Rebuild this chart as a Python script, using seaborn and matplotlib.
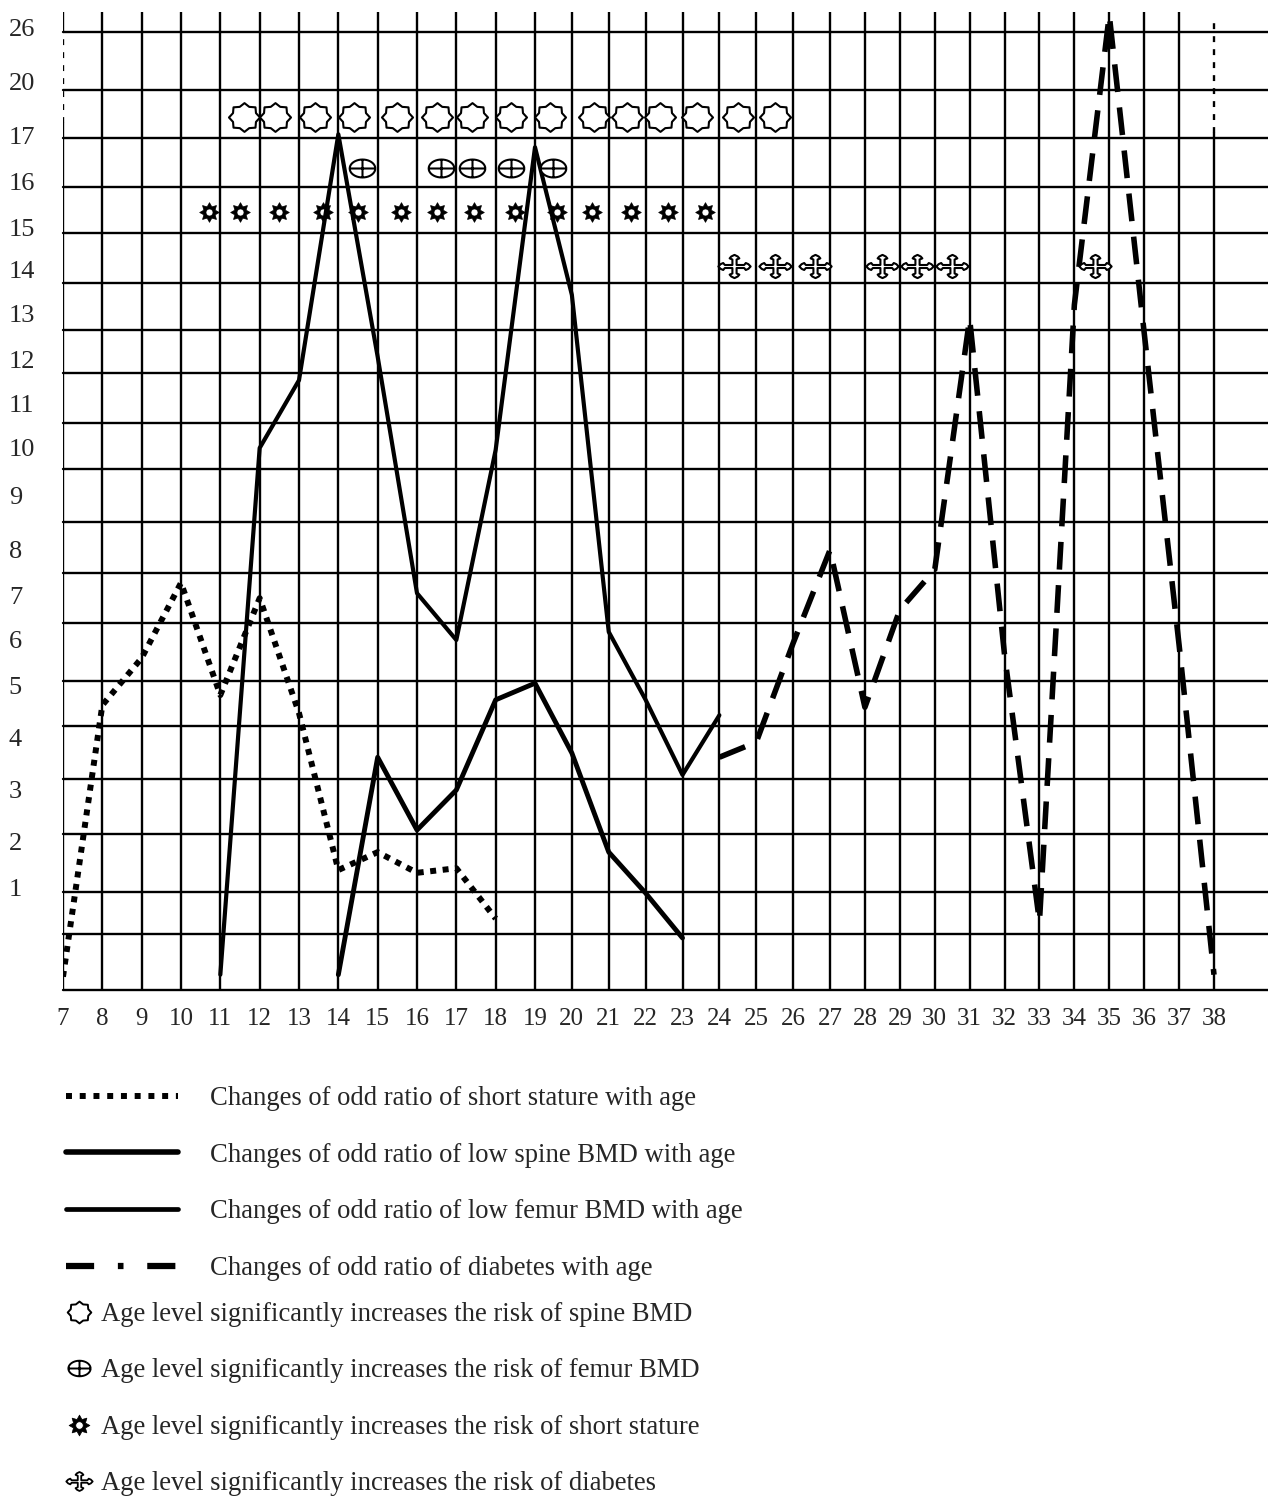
import matplotlib
matplotlib.use("Agg")
import matplotlib.pyplot as plt
import numpy as np
import seaborn as sns
from matplotlib.path import Path
from matplotlib.markers import MarkerStyle
from matplotlib.lines import Line2D

# ---- data (odds ratio by age) ----
ages_short = [7, 8, 9, 10, 11, 12, 13, 14, 15, 16, 17, 18]
or_short = [0.13, 4.62, 5.6, 7.27, 4.81, 6.93, 4.47, 1.39, 1.78, 1.33, 1.43, 0.7]

ages_spine = [11, 12, 13, 14, 15, 16, 17, 18, 19, 20, 21, 22, 23, 24]
or_spine = [0.15, 10.0, 11.53, 17.04, 12.07, 7.04, 6.0, 9.96, 16.74, 13.42, 6.18, 4.72, 3.29, 4.43]

ages_femur = [14, 15, 16, 17, 18, 19, 20, 21, 22, 23]
or_femur = [0.15, 3.63, 2.23, 3.0, 4.72, 5.04, 3.71, 1.78, 0.95, 0.51]

ages_diab = [24, 25, 26, 27, 28, 29, 30, 31, 32, 33, 34, 35, 36, 37, 38]
or_diab = [3.63, 3.92, 5.93, 8.0, 4.58, 6.67, 7.56, 12.88, 5.67, 0.67, 13.19, 27.4, 12.58, 5.89, 0.15]

# ages where the risk increase is significant (symbol rows)
sig_spine_ages = [11.6, 12.4, 13.4, 14.4, 15.5, 16.5, 17.4, 18.4, 19.4, 20.6, 21.5, 22.4, 23.4, 24.5, 25.5]
sig_femur_ages = [14.6, 16.6, 17.4, 18.4, 19.5]
sig_short_ages = [10.7, 11.5, 12.5, 13.6, 14.5, 15.6, 16.5, 17.45, 18.5, 19.6, 20.55, 21.6, 22.6, 23.6]
sig_diab_ages = [24.4, 25.5, 26.6, 28.5, 29.5, 30.5, 34.6]
row_spine, row_femur, row_short, row_diab = 18.0, 16.3, 15.33, 14.1

x_ticks = list(range(7, 39))
y_ticks = [1, 2, 3, 4, 5, 6, 7, 8, 9, 10, 11, 12, 13, 14, 15, 16, 17, 20, 26]
grid_vals = [0, 0.55, 0.96, 2.15, 3.21, 4.23, 5.09, 6.38, 7.49, 8.51, 9.55, 10.56,
             11.7, 12.64, 13.7, 14.86, 15.89, 16.94, 19.55, 25.56]

labels_lines = ["Changes of odd ratio of short stature with age",
                "Changes of odd ratio of low spine BMD with age",
                "Changes of odd ratio of low femur BMD with age",
                "Changes of odd ratio of diabetes with age"]
labels_marks = ["Age level significantly increases the risk of spine BMD",
                "Age level significantly increases the risk of femur BMD",
                "Age level significantly increases the risk of short stature",
                "Age level significantly increases the risk of diabetes"]


def piecewise(xs, ys):
    xs = np.asarray(xs, float)
    ys = np.asarray(ys, float)
    s0 = (ys[1] - ys[0]) / (xs[1] - xs[0])
    s1 = (ys[-1] - ys[-2]) / (xs[-1] - xs[-2])

    def f(v):
        v = np.asarray(v, float)
        out = np.interp(v, xs, ys)
        out = np.where(v < xs[0], ys[0] + (v - xs[0]) * s0, out)
        out = np.where(v > xs[-1], ys[-1] + (v - xs[-1]) * s1, out)
        return out
    return f


# hand drawn axes: uneven spacing on both axes
x_anchor, x_px = [7, 19, 27, 38], [0, 472, 767, 1151]
y_anchor = [0, 1, 2, 3, 4, 5, 6, 7, 8, 9, 10, 11, 12, 13, 14, 15, 16, 17, 20, 26, 30]
y_px = [0, 102, 148, 200, 252, 305, 350, 395, 440, 495, 542, 587, 630, 677, 720, 763, 808, 855, 908, 962, 999]
fx, fx_inv = piecewise(x_anchor, x_px), piecewise(x_px, x_anchor)
fy, fy_inv = piecewise(y_anchor, y_px), piecewise(y_px, y_anchor)


# ---- marker shapes ----
def seal_path():
    ang = np.linspace(0, 2 * np.pi, 17)[:-1] + np.pi / 2
    r = np.where(np.arange(16) % 2 == 0, 1.0, 0.8)
    v = np.c_[1.08 * r * np.cos(ang), r * np.sin(ang)]
    v = np.vstack([v, v[:1]])
    codes = [Path.MOVETO] + [Path.LINETO] * 15 + [Path.CLOSEPOLY]
    return Path(v, codes)


def oplus_path():
    t = np.linspace(0, 2 * np.pi, 41)
    ell = np.c_[np.cos(t), 0.7 * np.sin(t)]
    verts = list(ell) + [(-1, 0), (1, 0), (0, -0.7), (0, 0.7)]
    codes = [Path.MOVETO] + [Path.LINETO] * 40 + [Path.MOVETO, Path.LINETO, Path.MOVETO, Path.LINETO]
    return Path(verts, codes)


def sun_path():
    ang = np.linspace(0, 2 * np.pi, 17)[:-1] + np.pi / 2
    r = np.where(np.arange(16) % 2 == 0, 1.0, 0.62)
    outer = np.c_[r * np.cos(ang), r * np.sin(ang)]
    t = np.linspace(0, -2 * np.pi, 25)[:-1]
    inner = np.c_[0.36 * np.cos(t), 0.36 * np.sin(t)]
    verts = np.vstack([outer, outer[:1], inner, inner[:1]])
    codes = ([Path.MOVETO] + [Path.LINETO] * 15 + [Path.CLOSEPOLY]
             + [Path.MOVETO] + [Path.LINETO] * 23 + [Path.CLOSEPOLY])
    return Path(verts, codes)


def cross_path():
    arm = np.array([(0.13, -0.13), (0.6, -0.13), (0.7, -0.3), (0.86, -0.2), (1.0, 0),
                    (0.86, 0.2), (0.7, 0.3), (0.6, 0.13)])
    pts = []
    for k in range(4):
        a = k * np.pi / 2
        rot = np.array([[np.cos(a), -np.sin(a)], [np.sin(a), np.cos(a)]])
        pts.extend(arm @ rot.T)
    pts = np.array(pts) * [1.0, 0.72]
    verts = np.vstack([pts, pts[:1]])
    codes = [Path.MOVETO] + [Path.LINETO] * (len(pts) - 1) + [Path.CLOSEPOLY]
    return Path(verts, codes)


m_spine = MarkerStyle(seal_path())
m_femur = MarkerStyle(oplus_path())
m_short = MarkerStyle(sun_path())
m_diab = MarkerStyle(cross_path())

sns.set_style("white")
plt.rcParams["font.family"] = ["Liberation Serif", "DejaVu Serif"]

W, H = 1268, 1502
fig = plt.figure(figsize=(W / 100, H / 100), dpi=100)
ax = fig.add_axes([63 / W, 1 - 990 / H, 1205 / W, 978 / H])
ax.set_xscale("function", functions=(fx, fx_inv))
ax.set_yscale("function", functions=(fy, fy_inv))
ax.set_xlim(7, float(fx_inv(1205)))
ytop = float(fy_inv(978))
ax.set_ylim(0, ytop)
for s in ax.spines.values():
    s.set_visible(False)

# grid drawn like the paper sheet
glw = 1.7
for a in x_ticks[1:-1]:
    ax.axvline(a, color="black", lw=glw, zorder=1)
ax.plot([7, 7], [0, 17.68], color="black", lw=glw, zorder=1)
ax.plot([7, 7], [17.68, 25.56], color="black", lw=glw, ls=(0, (2.5, 3)), zorder=1)
ax.plot([7, 7], [25.56, ytop], color="black", lw=glw, zorder=1)
ax.plot([38, 38], [0, 17.1], color="black", lw=glw, zorder=1)
ax.plot([38, 38], [17.1, 27.2], color="black", lw=glw, ls=(0, (2.5, 3)), zorder=1)
for g in grid_vals:
    ax.axhline(g, color="black", lw=glw, zorder=1, clip_on=False)

# odds ratio curves
sns.lineplot(x=ages_short, y=or_short, ax=ax, color="black", lw=4.3,
             linestyle=(0, (1, 1.1)), dash_capstyle="butt", zorder=3)
sns.lineplot(x=ages_spine, y=or_spine, ax=ax, color="black", lw=3.0, zorder=3)
sns.lineplot(x=ages_femur, y=or_femur, ax=ax, color="black", lw=3.5, zorder=3)
sns.lineplot(x=ages_diab, y=or_diab, ax=ax, color="black", lw=4.0,
             linestyle=(0, (5, 2.8)), dash_capstyle="butt", zorder=3)

# significance symbols
sns.scatterplot(x=sig_spine_ages, y=[row_spine] * len(sig_spine_ages), ax=ax, marker=m_spine,
                s=500, color="white", edgecolor="black", linewidth=1.5, zorder=4)
sns.scatterplot(x=sig_femur_ages, y=[row_femur] * len(sig_femur_ages), ax=ax, marker=m_femur,
                s=340, color="white", edgecolor="black", linewidth=1.5, zorder=4)
sns.scatterplot(x=sig_short_ages, y=[row_short] * len(sig_short_ages), ax=ax, marker=m_short,
                s=200, color="black", edgecolor="black", linewidth=0.5, zorder=4)
sns.scatterplot(x=sig_diab_ages, y=[row_diab] * len(sig_diab_ages), ax=ax, marker=m_diab,
                s=540, color="white", edgecolor="black", linewidth=1.5, zorder=4)

ax.set_xticks(x_ticks)
ax.set_xticklabels([str(a) for a in x_ticks], fontsize=18)
ax.set_yticks(y_ticks)
ax.set_yticklabels([str(v) for v in y_ticks], fontsize=19)
for t in ax.get_yticklabels():
    t.set_horizontalalignment("left")
ax.tick_params(axis="x", length=0, pad=13)
ax.tick_params(axis="y", length=0, pad=39)
ax.minorticks_off()
ax.set_xlabel("")
ax.set_ylabel("")

# legends
fs_leg = 19.2
line_handles = [
    Line2D([], [], color="black", lw=4.3, linestyle=(0, (1, 1.3)), dash_capstyle="butt"),
    Line2D([], [], color="black", lw=4.0),
    Line2D([], [], color="black", lw=3.4),
    Line2D([], [], color="black", lw=4.5, linestyle=(0, (4.5, 3.8, 0.9, 3.8)), dash_capstyle="butt"),
]
leg1 = fig.legend(line_handles, labels_lines, loc="upper left", bbox_to_anchor=(66 / W, 1 - 1086 / H),
                  frameon=False, fontsize=fs_leg, handlelength=4.2, handletextpad=1.2,
                  labelspacing=1.19, borderpad=0, borderaxespad=0)

mark_handles = [
    Line2D([], [], ls="none", marker=m_spine, markersize=17, markerfacecolor="white",
           markeredgecolor="black", markeredgewidth=1.4),
    Line2D([], [], ls="none", marker=m_femur, markersize=16, markerfacecolor="white",
           markeredgecolor="black", markeredgewidth=1.4),
    Line2D([], [], ls="none", marker=m_short, markersize=15, markerfacecolor="black",
           markeredgecolor="black", markeredgewidth=0.5),
    Line2D([], [], ls="none", marker=m_diab, markersize=19, markerfacecolor="white",
           markeredgecolor="black", markeredgewidth=1.3),
]
leg2 = fig.legend(mark_handles, labels_marks, loc="upper left", bbox_to_anchor=(66 / W, 1 - 1302 / H),
                  frameon=False, fontsize=fs_leg, handlelength=1.0, handletextpad=0.3,
                  labelspacing=1.18, borderpad=0, borderaxespad=0, numpoints=1)

fig.savefig("out.png", dpi=100)
